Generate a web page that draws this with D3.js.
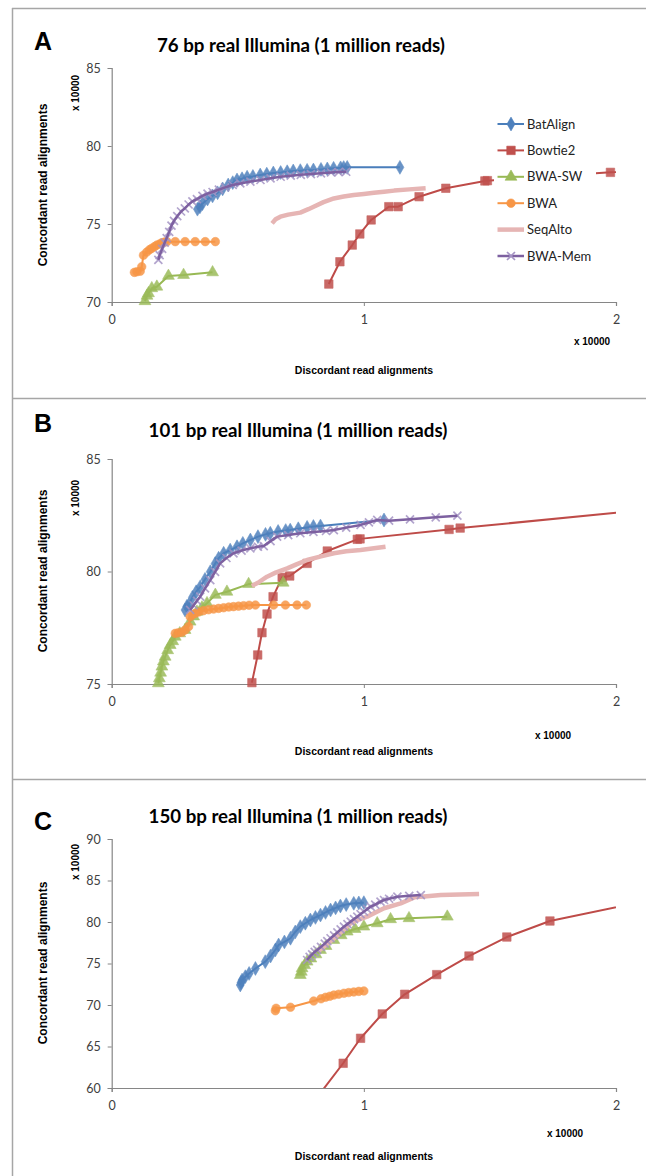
<!DOCTYPE html>
<html><head><meta charset="utf-8">
<script src="https://cdn.jsdelivr.net/npm/d3@7"></script>
<style>body{margin:0;background:#fff}svg{display:block}</style>
</head><body>
<svg id="c" width="646" height="1176"></svg>
<script>
// ---------- DATA (x in units of 10000 discordant, y in units of 10000 concordant) ----------
const seriesNames = ["BatAlign","Bowtie2","BWA-SW","BWA","SeqAlto","BWA-Mem"];
const panelLetters = ["A","B","C"];
const panelTitles = ["76 bp real Illumina (1 million reads)","101 bp real Illumina (1 million reads)","150 bp real Illumina (1 million reads)"];
const xTicks = [0,1,2];
const yTicksA = [70,75,80,85];
const yTicksB = [75,80,85];
const yTicksC = [60,65,70,75,80,85,90];
const xLabel = "Discordant read alignments";
const yLabel = "Concordant read alignments";
const unitLabel = "x 10000";

// Panel A
const A_BatAlign = [[0.34,75.95],[0.35,76.1],[0.36,76.3],[0.38,76.6],[0.40,76.8],[0.42,77.0],[0.44,77.25],[0.462,77.5],[0.48,77.65],[0.497,77.82],[0.517,77.9],[0.537,78.0],[0.56,78.05],[0.589,78.14],[0.615,78.2],[0.641,78.27],[0.67,78.3],[0.696,78.35],[0.72,78.4],[0.748,78.42],[0.775,78.44],[0.8,78.46],[0.83,78.5],[0.855,78.53],[0.88,78.57],[0.908,78.6],[0.92,78.62],[0.934,78.63],[1.143,78.63]];
const A_Bowtie2 = [[0.861,71.15],[0.905,72.58],[0.954,73.65],[0.984,74.36],[1.029,75.26],[1.099,76.11],[1.136,76.11],[1.219,76.75],[1.325,77.29],[1.48,77.76],[1.49,77.78],[1.978,78.31],[2.3,78.55]];
const A_BWASW = [[0.132,70.05],[0.14,70.4],[0.146,70.56],[0.159,70.88],[0.179,70.98],[0.225,71.67],[0.285,71.73],[0.4,71.9]];
const A_BWA = [[0.09,71.9],[0.1,71.94],[0.113,71.97],[0.119,72.26],[0.126,73.0],[0.139,73.2],[0.15,73.35],[0.159,73.44],[0.17,73.55],[0.179,73.65],[0.19,73.72],[0.199,73.8],[0.21,73.85],[0.219,73.87],[0.252,73.87],[0.291,73.87],[0.331,73.87],[0.371,73.87],[0.411,73.87]];
const A_SeqAlto = [[0.636,75.04],[0.65,75.3],[0.669,75.47],[0.7,75.6],[0.748,75.73],[0.78,75.95],[0.801,76.11],[0.84,76.4],[0.881,76.64],[0.92,76.76],[0.96,76.86],[1.0,76.93],[1.04,77.0],[1.08,77.07],[1.12,77.14],[1.18,77.22],[1.245,77.29]];
const A_BWAMem = [[0.185,72.7],[0.19,73.0],[0.2,73.4],[0.21,73.8],[0.218,74.1],[0.228,74.5],[0.237,74.9],[0.247,75.2],[0.26,75.5],[0.275,75.8],[0.29,76.0],[0.305,76.25],[0.32,76.45],[0.338,76.6],[0.36,76.8],[0.38,76.95],[0.4,77.05],[0.425,77.2],[0.45,77.35],[0.48,77.5],[0.51,77.6],[0.55,77.72],[0.59,77.82],[0.63,77.93],[0.67,78.03],[0.71,78.1],[0.75,78.15],[0.79,78.2],[0.83,78.25],[0.87,78.3],[0.9,78.33],[0.93,78.35]];

// Panel B
const B_BatAlign = [[0.291,78.29],[0.298,78.45],[0.305,78.51],[0.32,78.85],[0.335,79.1],[0.351,79.32],[0.37,79.65],[0.391,79.99],[0.41,80.35],[0.424,80.59],[0.444,80.81],[0.47,80.95],[0.497,81.1],[0.52,81.25],[0.55,81.4],[0.58,81.55],[0.61,81.65],[0.629,81.7],[0.66,81.78],[0.69,81.82],[0.708,81.84],[0.74,81.9],[0.775,81.96],[0.8,82.0],[0.828,82.02],[1.08,82.29]];
const B_Bowtie2 = [[0.556,75.06],[0.579,76.29],[0.596,77.28],[0.616,78.11],[0.64,78.88],[0.676,79.74],[0.706,79.8],[0.775,80.36],[0.855,80.91],[0.974,81.43],[0.985,81.45],[1.338,81.87],[1.382,81.93],[2.3,82.94]];
const B_BWASW = [[0.185,75.03],[0.189,75.25],[0.194,75.5],[0.199,75.77],[0.205,76.0],[0.212,76.21],[0.222,76.5],[0.232,76.73],[0.242,76.9],[0.252,77.1],[0.27,77.25],[0.291,77.4],[0.311,77.77],[0.325,78.0],[0.338,78.21],[0.358,78.4],[0.378,78.59],[0.411,78.96],[0.457,79.1],[0.543,79.44],[0.68,79.5]];
const B_BWA = [[0.252,77.25],[0.265,77.28],[0.278,77.3],[0.291,77.4],[0.305,77.55],[0.311,77.99],[0.32,78.08],[0.331,78.14],[0.345,78.2],[0.364,78.26],[0.384,78.3],[0.404,78.33],[0.424,78.36],[0.444,78.39],[0.464,78.42],[0.483,78.44],[0.503,78.46],[0.523,78.48],[0.545,78.5],[0.57,78.51],[0.642,78.51],[0.689,78.51],[0.735,78.51],[0.772,78.51]];
const B_SeqAlto = [[0.556,79.36],[0.58,79.5],[0.616,79.77],[0.65,79.95],[0.696,80.14],[0.735,80.33],[0.775,80.51],[0.83,80.67],[0.881,80.81],[0.93,80.9],[0.987,80.96],[1.04,81.03],[1.086,81.1]];
const B_BWAMem = [[0.311,78.29],[0.325,78.5],[0.338,78.7],[0.351,78.88],[0.37,79.25],[0.391,79.62],[0.41,79.98],[0.43,80.36],[0.455,80.6],[0.483,80.81],[0.515,80.93],[0.55,81.03],[0.58,81.1],[0.603,81.13],[0.63,81.35],[0.656,81.55],[0.7,81.62],[0.748,81.7],[0.8,81.76],[0.85,81.8],[0.881,81.84],[0.93,81.95],[0.987,82.07],[1.02,82.18],[1.053,82.29],[1.1,82.26],[1.183,82.32],[1.285,82.41],[1.371,82.48]];

// Panel C
const C_BatAlign = [[0.51,72.41],[0.513,72.7],[0.517,73.0],[0.53,73.41],[0.545,73.8],[0.57,74.4],[0.609,75.22],[0.63,75.9],[0.649,76.63],[0.662,77.23],[0.685,77.6],[0.709,78.04],[0.728,78.8],[0.748,79.44],[0.768,79.85],[0.788,80.24],[0.808,80.55],[0.828,80.84],[0.848,81.15],[0.868,81.45],[0.888,81.7],[0.907,81.93],[0.93,82.1],[0.96,82.25],[0.98,82.3],[1.0,82.33]];
const C_Bowtie2 = [[0.78,57.5],[0.918,62.98],[0.987,65.99],[1.073,68.92],[1.162,71.29],[1.289,73.66],[1.417,75.9],[1.567,78.19],[1.738,80.12],[2.3,83.7]];
const C_BWASW = [[0.748,73.61],[0.752,74.0],[0.755,74.42],[0.765,74.8],[0.775,75.22],[0.79,75.6],[0.81,76.1],[0.828,76.63],[0.85,77.1],[0.881,77.83],[0.91,78.4],[0.934,78.84],[0.965,79.15],[1.0,79.44],[1.053,79.84],[1.106,80.33],[1.179,80.45],[1.331,80.64]];
const C_BWA = [[0.649,69.31],[0.652,69.6],[0.709,69.73],[0.801,70.48],[0.83,70.75],[0.848,70.93],[0.865,71.05],[0.881,71.2],[0.9,71.3],[0.921,71.41],[0.94,71.5],[0.96,71.57],[0.98,71.64],[1.0,71.69]];
const C_SeqAlto = [[0.82,76.5],[0.86,77.5],[0.9,78.5],[0.947,79.84],[0.98,80.3],[1.013,80.64],[1.05,81.2],[1.08,81.66],[1.146,82.25],[1.2,82.97],[1.25,83.1],[1.305,83.25],[1.38,83.32],[1.457,83.37]];
const C_BWAMem = [[0.775,75.42],[0.785,75.8],[0.795,76.1],[0.805,76.4],[0.815,76.63],[0.83,77.0],[0.845,77.4],[0.855,77.7],[0.868,78.04],[0.882,78.4],[0.895,78.75],[0.908,79.1],[0.921,79.44],[0.935,79.75],[0.948,80.05],[0.961,80.35],[0.974,80.64],[0.987,80.95],[1.0,81.25],[1.013,81.55],[1.027,81.85],[1.045,82.1],[1.066,82.46],[1.08,82.65],[1.1,82.8],[1.133,83.05],[1.18,83.15],[1.226,83.25]];

// ---------- STYLE / LAYOUT ----------
const styles = {
  "BatAlign": {color:"#4A7EBB", mcolor:"#4F81BD", marker:"diamond", w:2, ms:10},
  "Bowtie2":  {color:"#BE4B48", mcolor:"#C0504D", marker:"square", w:2, ms:8.5},
  "BWA-SW":   {color:"#98B954", mcolor:"#9BBB59", marker:"triangle", w:2, ms:9},
  "BWA":      {color:"#F79646", mcolor:"#F79646", marker:"circle", w:2, ms:8.5},
  "SeqAlto":  {color:"#E6B5B4", mcolor:"#E6B5B4", marker:"none", w:4.5, ms:0},
  "BWA-Mem":  {color:"#7D60A0", mcolor:"#A594C4", marker:"x", w:2.5, ms:8}
};
const panels = [
  {top:68, bottom:302, yDomain:[70,85], yTicks:yTicksA, series:[A_BatAlign,A_Bowtie2,A_BWASW,A_BWA,A_SeqAlto,A_BWAMem],
   letterY:50, titleY:52, titleX:301, unitY:93, xTickY:326, xUnit:[592,345], xLab:[364,374], yLabC:185, legend:true},
  {top:459, bottom:684, yDomain:[75,85], yTicks:yTicksB, series:[B_BatAlign,B_Bowtie2,B_BWASW,B_BWA,B_SeqAlto,B_BWAMem],
   letterY:432, titleY:437, titleX:298, unitY:498, xTickY:707, xUnit:[553,739], xLab:[364,755], yLabC:571, legend:false},
  {top:839, bottom:1088, yDomain:[60,90], yTicks:yTicksC, series:[C_BatAlign,C_Bowtie2,C_BWASW,C_BWA,C_SeqAlto,C_BWAMem],
   letterY:830, titleY:823, titleX:298, unitY:862, xTickY:1111, xUnit:[565,1137], xLab:[364,1160], yLabC:963, legend:false}
];
const plotLeft = 111.7, plotRight = 616;

const svg = d3.select("#c");
// panel frame lines
const frame = "#A6A6A6";
svg.append("line").attr("x1",12.5).attr("x2",12.5).attr("y1",8).attr("y2",1176).attr("stroke",frame).attr("stroke-width",1.5);
[8.5,398.5,779.5].forEach(y=>svg.append("line").attr("x1",12).attr("x2",646).attr("y1",y).attr("y2",y).attr("stroke",frame).attr("stroke-width",1.5));

function markerPath(type, s){
  if(type==="diamond") return d3.symbol(d3.symbolDiamond, s*s*0.55)();
  if(type==="square") return d3.symbol(d3.symbolSquare, s*s)();
  if(type==="triangle") return d3.symbol(d3.symbolTriangle, s*s*0.75)();
  if(type==="circle") return d3.symbol(d3.symbolCircle, s*s*0.8)();
  if(type==="x"){const h=s/2; return `M${-h},${-h}L${h},${h}M${-h},${h}L${h},${-h}`;}
  return null;
}

const fontTitle = "Lato, 'Open Sans', sans-serif";
panels.forEach((p,pi)=>{
  const g = svg.append("g");
  const x = d3.scaleLinear().domain([0,2]).range([plotLeft,plotRight]);
  const y = d3.scaleLinear().domain(p.yDomain).range([p.bottom,p.top]);
  const clipId = "clip"+pi;
  svg.append("clipPath").attr("id",clipId).append("rect")
    .attr("x",plotLeft).attr("y",p.top).attr("width",plotRight-plotLeft).attr("height",p.bottom-p.top);

  // axes
  const ya = g.append("g").attr("transform",`translate(${plotLeft},0)`)
    .call(d3.axisLeft(y).tickValues(p.yTicks).tickSize(4).tickPadding(7).tickFormat(d3.format("d")));
  const xa = g.append("g").attr("transform",`translate(0,${p.bottom})`)
    .call(d3.axisBottom(x).tickValues(xTicks).tickSize(4).tickPadding(9).tickFormat(d3.format("d")));
  [ya,xa].forEach(a=>{
    a.select(".domain").attr("stroke","#868686").attr("stroke-width",1.2);
    a.selectAll(".tick line").attr("stroke","#868686");
    a.selectAll(".tick text").attr("font-family","Lato, sans-serif").attr("font-size",12.5).attr("fill","#404040");
  });

  // letter and title
  g.append("text").attr("x",34).attr("y",p.letterY).text(panelLetters[pi])
    .attr("font-family","'Liberation Sans', Arial, sans-serif").attr("font-weight","bold").attr("font-size",25).attr("fill","#000");
  g.append("text").attr("x",p.titleX).attr("y",p.titleY).attr("text-anchor","middle").text(panelTitles[pi])
    .attr("font-family",fontTitle).attr("font-weight","bold").attr("font-size",18.7).attr("fill","#000");

  // axis titles
  g.append("text").attr("transform",`translate(47,${p.yLabC}) rotate(-90)`).attr("text-anchor","middle").text(yLabel)
    .attr("font-family","'Liberation Sans', Arial, sans-serif").attr("font-weight","bold").attr("font-size",12);
  g.append("text").attr("transform",`translate(79,${p.unitY}) rotate(-90)`).attr("text-anchor","middle").text(unitLabel)
    .attr("font-family","'Liberation Sans', Arial, sans-serif").attr("font-weight","bold").attr("font-size",10);
  g.append("text").attr("x",p.xUnit[0]).attr("y",p.xUnit[1]).attr("text-anchor","middle").text(unitLabel)
    .attr("font-family","'Liberation Sans', Arial, sans-serif").attr("font-weight","bold").attr("font-size",10);
  g.append("text").attr("x",p.xLab[0]).attr("y",p.xLab[1]).attr("text-anchor","middle").text(xLabel)
    .attr("font-family","'Liberation Sans', Arial, sans-serif").attr("font-weight","bold").attr("font-size",10.5);

  // series
  const line = d3.line().x(d=>x(d[0])).y(d=>y(d[1]));
  seriesNames.forEach((name,si)=>{
    const st = styles[name], data = p.series[si];
    const sg = g.append("g");
    const inDom = data.filter(d=>d[0]>=0 && d[0]<=2 && d[1]>=p.yDomain[0] && d[1]<=p.yDomain[1]);
    const drawLine = ()=> sg.append("path").attr("d",line(data)).attr("fill","none")
      .attr("stroke",st.color).attr("stroke-width",st.w).attr("stroke-linejoin","round").attr("clip-path",`url(#${clipId})`);
    if(name==="BWA-Mem"){
      sg.selectAll("path.m").data(inDom).join("path").attr("class","m")
        .attr("transform",d=>`translate(${x(d[0])},${y(d[1])})`).attr("d",markerPath("x",st.ms))
        .attr("fill","none").attr("stroke",st.mcolor).attr("stroke-width",1.7).attr("opacity",0.85);
      drawLine();
    } else {
      drawLine();
      if(st.marker!=="none"){
        sg.selectAll("path.m").data(inDom).join("path").attr("class","m")
          .attr("transform",d=>`translate(${x(d[0])},${y(d[1])})`).attr("d",markerPath(st.marker,st.ms))
          .attr("fill",st.mcolor).attr("stroke",st.mcolor).attr("stroke-width",0.6).attr("opacity",0.85);
      }
    }
  });

  // legend
  if(p.legend){
    const lg = g.append("g");
    lg.append("rect").attr("x",494).attr("y",111).attr("width",102).attr("height",158).attr("fill","#fff");
    seriesNames.forEach((name,i)=>{
      const st = styles[name], ly = 124 + i*26.4;
      lg.append("line").attr("x1",497.5).attr("x2",524).attr("y1",ly).attr("y2",ly)
        .attr("stroke",st.color).attr("stroke-width",st.w);
      if(st.marker!=="none"){
        lg.append("path").attr("transform",`translate(511,${ly})`).attr("d",markerPath(st.marker, st.ms))
          .attr("fill",st.marker==="x"?"none":st.mcolor).attr("stroke",st.mcolor).attr("stroke-width",st.marker==="x"?1.7:0.6);
      }
      lg.append("text").attr("x",527).attr("y",ly+4.5).text(name)
        .attr("font-family","Lato, sans-serif").attr("font-size",13).attr("fill","#222");
    });
  }
});
</script>
</body></html>
